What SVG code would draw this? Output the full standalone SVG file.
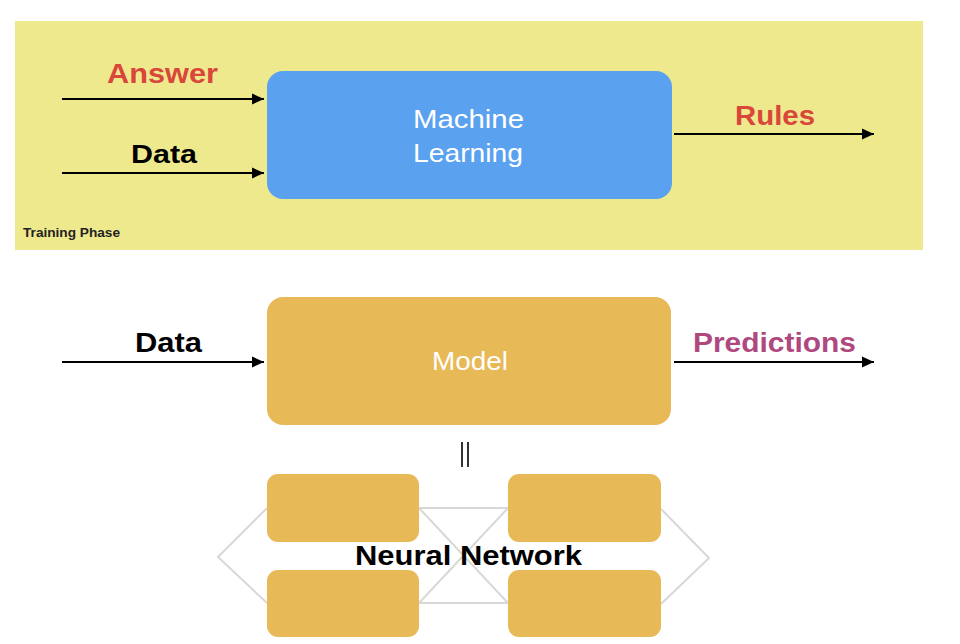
<svg xmlns="http://www.w3.org/2000/svg" width="960" height="644" viewBox="0 0 960 644">
<defs>
<marker id="ah" markerUnits="userSpaceOnUse" markerWidth="12" markerHeight="12" refX="12" refY="6" orient="auto">
<path d="M0,0.5 L12,6 L0,11.5 z" fill="#000"/>
</marker>
<style>
.t{font-family:"Liberation Sans",Arial,sans-serif}
.b{font-weight:bold}
.w{fill:#fff}
.arr{stroke:#000;stroke-width:2.2;fill:none;marker-end:url(#ah)}
.nn{stroke:#d8d8d8;stroke-width:2;fill:none}
.ob{fill:#e8b957}
</style>
</defs>
<rect width="960" height="644" fill="#fff"/>
<g id="training-phase">
<rect x="15" y="21" width="908" height="229" fill="#efe98e"/>
<text class="t b" x="23" y="237" font-size="13" textLength="97" lengthAdjust="spacingAndGlyphs" fill="#222">Training Phase</text>
</g>
<g id="connectors">
<line class="arr" x1="62" y1="99" x2="264" y2="99"/>
<line class="arr" x1="62" y1="173" x2="264" y2="173"/>
<line class="arr" x1="674" y1="134" x2="874" y2="134"/>
<line class="arr" x1="62" y1="362" x2="264" y2="362"/>
<line class="arr" x1="674" y1="362" x2="874" y2="362"/>
<g id="nn-links">
<polyline class="nn" points="267,508 218,557 267,603"/>
<polyline class="nn" points="661,509 709,558 661,604"/>
<line class="nn" x1="419" y1="508" x2="508" y2="508"/>
<line class="nn" x1="419" y1="603" x2="508" y2="603"/>
<line class="nn" x1="419" y1="508" x2="508" y2="603"/>
<line class="nn" x1="419" y1="603" x2="508" y2="508"/>
</g>
</g>
<g id="labels">
<text class="t b" x="107" y="83" font-size="27" textLength="111" lengthAdjust="spacingAndGlyphs" fill="#d8473a">Answer</text>
<text class="t b" x="131" y="163" font-size="26" textLength="66" lengthAdjust="spacingAndGlyphs" fill="#000">Data</text>
<text class="t b" x="735" y="125" font-size="27" textLength="80" lengthAdjust="spacingAndGlyphs" fill="#d8473a">Rules</text>
<text class="t b" x="135" y="352" font-size="27" textLength="67" lengthAdjust="spacingAndGlyphs" fill="#000">Data</text>
<text class="t b" x="693" y="352" font-size="27" textLength="163" lengthAdjust="spacingAndGlyphs" fill="#b04880">Predictions</text>
</g>
<g id="machine-learning">
<rect x="267" y="71" width="405" height="128" rx="16" fill="#5aa1ef"/>
<text class="t w" x="413" y="128" font-size="26" textLength="111" lengthAdjust="spacingAndGlyphs">Machine</text>
<text class="t w" x="413" y="162" font-size="26" textLength="110" lengthAdjust="spacingAndGlyphs">Learning</text>
</g>
<g id="model">
<rect class="ob" x="267" y="297" width="404" height="128" rx="16"/>
<text class="t w" x="432" y="370" font-size="25" textLength="76" lengthAdjust="spacingAndGlyphs">Model</text>
</g>
<g id="equals">
<line x1="462" y1="442" x2="462" y2="467" stroke="#000" stroke-width="1.6"/>
<line x1="468" y1="442" x2="468" y2="467" stroke="#000" stroke-width="1.6"/>
</g>
<g id="nn-box-1"><rect class="ob" x="267" y="474" width="152" height="68" rx="11"/></g>
<g id="nn-box-2"><rect class="ob" x="508" y="474" width="153" height="68" rx="11"/></g>
<g id="nn-box-3"><rect class="ob" x="267" y="570" width="152" height="67" rx="11"/></g>
<g id="nn-box-4"><rect class="ob" x="508" y="570" width="153" height="67" rx="11"/></g>
<g id="neural-network-label">
<text class="t b" x="355" y="565" font-size="27" textLength="227" lengthAdjust="spacingAndGlyphs" fill="#000">Neural Network</text>
</g>
</svg>
